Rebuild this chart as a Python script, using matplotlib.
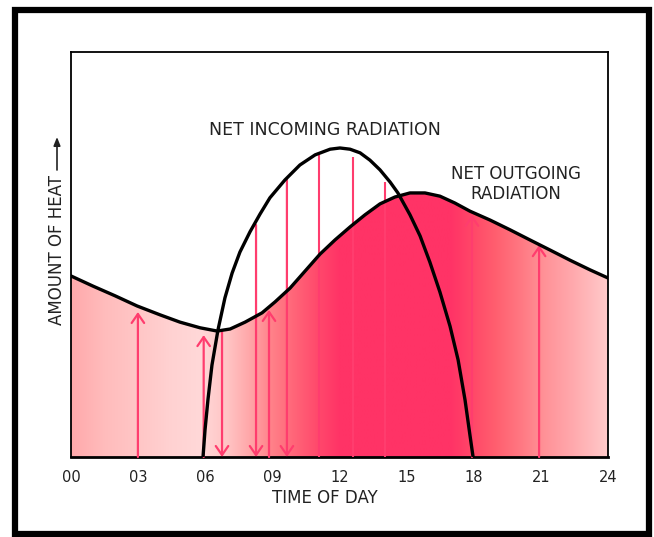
import numpy as np
import matplotlib.pyplot as plt
from matplotlib.colors import to_rgb
from matplotlib.patches import Rectangle

# net outgoing radiation (hour of day, relative heat)
out_hours = [0.0, 0.98, 1.97, 2.95, 3.98, 4.87, 5.77, 6.53, 7.11, 7.78, 8.54,
             9.12, 9.79, 10.46, 11.13, 11.8, 12.47, 13.14, 13.81, 14.48,
             15.15, 15.82, 16.49, 17.16, 17.83, 18.73, 19.62, 20.51, 21.41,
             22.3, 23.2, 24.0]
out_heat = [44.7, 42.2, 39.8, 37.3, 35.1, 33.3, 31.9, 31.1, 31.6, 33.3, 35.6,
            38.3, 41.7, 45.9, 50.1, 53.6, 56.8, 59.8, 62.5, 64.2,
            65.2, 65.2, 64.4, 62.7, 60.7, 58.5, 56.1, 53.6, 51.1,
            48.6, 46.2, 44.2]

# net incoming radiation
in_hours = [5.9, 5.99, 6.12, 6.3, 6.57, 6.88, 7.2, 7.55, 8.0, 8.45, 8.89,
            9.56, 10.23, 10.91, 11.58, 12.02, 12.47, 12.92, 13.36, 13.81,
            14.26, 14.61, 15.15, 15.6, 16.04, 16.49, 16.94, 17.3, 17.61,
            17.83, 17.97]
in_heat = [0.0, 6.7, 14.1, 22.7, 31.4, 39.3, 45.4, 50.6, 55.6, 60.0, 64.0,
           68.4, 72.1, 74.6, 76.0, 76.3, 76.0, 75.1, 73.3, 70.9,
           67.9, 65.2, 59.8, 54.6, 48.1, 40.7, 32.3, 24.0, 14.1,
           5.4, 0.0]

# arrows going up (outgoing) and down (incoming), plus plain lines
up_hours = [2.99, 5.93, 8.85, 17.92, 20.92]
up_tops = [35.8, 30.1, 36.3, 59.8, 52.3]
down_hours = [6.75, 8.27, 9.65]
down_tops = [31.1, 57.3, 68.5]
line_hours = [11.08, 12.6, 14.03]
line_tops = [74.6, 74.1, 67.9]

tick_hours = [0, 3, 6, 9, 12, 15, 18, 21, 24]
tick_labels = ['00', '03', '06', '09', '12', '15', '18', '21', '24']

# colour of the shaded area across the day
shade_hours = [0, 1.5, 3, 4.5, 5.8, 7, 8, 9, 10, 11, 12, 17, 18, 19, 20, 21, 22.5, 24]
shade_colors = ['#ffa9ab', '#ffbcbc', '#ffc6c6', '#ffd2d2', '#ffd8d8', '#ffc4c4',
                '#ffa6a8', '#ff8088', '#ff6478', '#ff4a6c', '#ff3366', '#ff3366',
                '#ff4868', '#ff5f6f', '#ff7580', '#ff8e94', '#ffaaae', '#ffcaca']

pink = '#ff3d6e'
txt = '#222222'

fig = plt.figure(figsize=(6.54, 5.37), dpi=100)
ax = fig.add_axes([71/654, 80/537, 537/654, 405/537])

# gradient fill under the outgoing curve
cols = np.linspace(0, 24, 481)
rgb = np.array([to_rgb(c) for c in shade_colors])
img = np.stack([np.interp(cols, shade_hours, rgb[:, k]) for k in range(3)], axis=-1)[None, :, :]
im = ax.imshow(img, extent=[0, 24, 0, 100], aspect='auto', origin='lower',
               interpolation='bilinear', zorder=1)
poly = ax.fill_between(out_hours, out_heat, 0, facecolor='none', edgecolor='none')
im.set_clip_path(poly.get_paths()[0], ax.transData)

# vertical lines / arrows
ax.vlines(line_hours, 0, line_tops, color=pink, lw=1.5, zorder=3)
arrow = dict(arrowstyle='->,head_length=0.65,head_width=0.45', color=pink, lw=1.6,
             shrinkA=0, shrinkB=0)
for h, t in zip(up_hours, up_tops):
    ax.annotate('', xy=(h, t), xytext=(h, 0), arrowprops=arrow, zorder=3)
for h, t in zip(down_hours, down_tops):
    ax.annotate('', xy=(h, 0), xytext=(h, t), arrowprops=arrow, zorder=3)

ax.plot(out_hours, out_heat, color='black', lw=2.4, zorder=5, solid_joinstyle='round')
ax.plot(in_hours, in_heat, color='black', lw=2.4, zorder=5, solid_joinstyle='round')

ax.text(11.35, 80.7, 'NET INCOMING RADIATION', ha='center', va='center',
        fontsize=12.5, color=txt)
ax.text(19.9, 67.4, 'NET OUTGOING\nRADIATION', ha='center', va='center',
        fontsize=12, color=txt, linespacing=1.1)

ax.set_xlim(0, 24)
ax.set_ylim(0, 100)
ax.set_xticks(tick_hours, tick_labels)
ax.set_yticks([])
ax.tick_params(axis='x', length=0, pad=9, labelsize=10.5, labelcolor=txt)
for s in ['left', 'right', 'top']:
    ax.spines[s].set_linewidth(1.3)
ax.spines['bottom'].set_linewidth(2)

fig.text(325/654, 1 - 498/537, 'TIME OF DAY', ha='center', va='center',
         fontsize=12, color=txt)
fig.text(57/654, 1 - 250/537, 'AMOUNT OF HEAT', ha='center', va='center',
         rotation=90, fontsize=12, color=txt)
fig.add_artist(plt.Annotation('', xy=(57/654, 1 - 137/537), xytext=(57/654, 1 - 170/537),
                              xycoords='figure fraction', textcoords='figure fraction',
                              arrowprops=dict(arrowstyle='-|>,head_length=0.5,head_width=0.2',
                                              color=txt, lw=1.2, shrinkA=0, shrinkB=0)))

# outer frame
fig.add_artist(Rectangle((15/654, 3/537), 634/654, 524/537, transform=fig.transFigure,
                         fill=False, edgecolor='black', lw=4.5))

fig.savefig('out.png', dpi=100)
